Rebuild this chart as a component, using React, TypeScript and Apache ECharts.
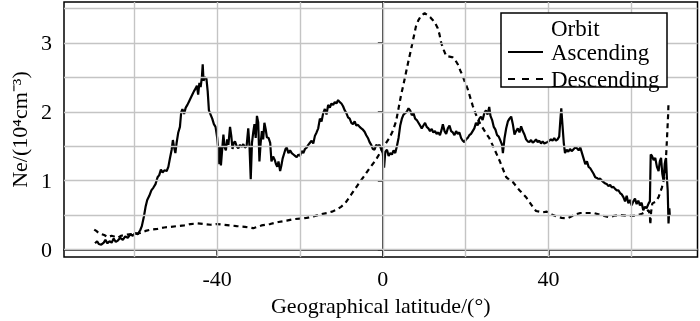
import React, { useEffect, useRef } from "react";
import * as echarts from "echarts";

const FONT = "'Liberation Serif', 'Times New Roman', serif";

const xLabelValues = [-40, 0, 40];
const yLabelValues = [0, 1, 2, 3];
const xGridValues = [-60, -40, -20, 0, 20, 40, 60];
const yGridValues = [0, 0.5, 1, 1.5, 2, 2.5, 3, 3.5];

const legendTitle = "Orbit";
const seriesNames = ["Ascending", "Descending"];

const ascLat = [
  -69.5, -69.0, -68.6, -68.0, -67.4, -67.0, -66.5, -66.0, -65.5, -65.0, -64.5, -64.0, -63.4, -62.8, -62.2, -61.6,
  -61.0, -60.4, -59.8, -59.2, -58.6, -58.2, -57.7, -57.3, -56.9, -56.4, -55.9, -55.4, -54.9, -54.4, -54.0, -53.6,
  -53.2, -52.7, -52.2, -51.8, -51.4, -51.0, -50.7, -50.4, -50.1, -49.8, -49.4, -49.0, -48.7, -48.4, -48.0, -47.6,
  -47.2, -46.8, -46.4, -46.0, -45.6, -45.2, -44.9, -44.6, -44.3, -44.0, -43.7, -43.5, -43.3, -43.0, -42.6, -42.3,
  -42.0, -41.6, -41.2, -40.8, -40.4, -40.0, -39.7, -39.5, -39.3, -39.1, -38.8, -38.5, -38.2, -37.9, -37.6, -37.3,
  -36.9, -36.6, -36.3, -36.0, -35.7, -35.3, -34.9, -34.5, -34.1, -33.7, -33.3, -32.9, -32.5, -32.2, -31.9, -31.6,
  -31.3, -31.0, -30.7, -30.4, -30.1, -29.8, -29.5, -29.2, -28.9, -28.6, -28.3, -28.0, -27.6, -27.2, -26.9, -26.5,
  -26.1, -25.8, -25.5, -25.2, -24.8, -24.5, -24.2, -23.9, -23.5, -23.2, -22.8, -22.4, -22.0, -21.6, -21.2, -20.8,
  -20.4, -20.0, -19.6, -19.2, -18.8, -18.4, -18.0, -17.6, -17.2, -16.8, -16.4, -16.0, -15.6, -15.2, -14.8, -14.4,
  -14.0, -13.6, -13.2, -12.8, -12.4, -12.0, -11.6, -11.2, -10.8, -10.4, -10.0, -9.6, -9.2, -8.8, -8.4, -8.0,
  -7.6, -7.2, -6.8, -6.4, -6.0, -5.6, -5.2, -4.8, -4.4, -4.0, -3.6, -3.2, -2.8, -2.4, -2.0, -1.6,
  -1.2, -0.8, -0.4, 0.0, 0.3, 0.6, 1.0, 1.4, 1.8, 2.2, 2.6, 3.0, 3.4, 3.8, 4.2, 4.6,
  5.0, 5.4, 5.8, 6.2, 6.6, 7.0, 7.4, 7.8, 8.2, 8.6, 9.0, 9.4, 9.8, 10.2, 10.6, 11.0,
  11.4, 11.8, 12.2, 12.6, 13.0, 13.4, 13.8, 14.2, 14.5, 14.9, 15.3, 15.7, 16.1, 16.5, 16.9, 17.3,
  17.7, 18.1, 18.5, 18.9, 19.3, 19.7, 20.1, 20.5, 20.9, 21.3, 21.7, 22.1, 22.5, 22.9, 23.3, 23.7,
  24.1, 24.5, 24.9, 25.3, 25.7, 26.0, 26.4, 26.8, 27.2, 27.6, 28.0, 28.4, 28.8, 29.0, 29.4, 29.8,
  30.2, 30.6, 31.0, 31.4, 31.8, 32.2, 32.6, 33.0, 33.4, 33.8, 34.2, 34.6, 35.0, 35.4, 35.8, 36.2,
  36.6, 37.0, 37.4, 37.8, 38.2, 38.6, 39.0, 39.4, 39.8, 40.2, 40.6, 41.0, 41.4, 41.8, 42.2, 42.6,
  42.9, 43.1, 43.4, 43.7, 44.0, 44.4, 44.8, 45.2, 45.6, 46.0, 46.4, 46.9, 47.3, 47.7, 48.1, 48.5,
  48.9, 49.3, 49.7, 50.1, 50.5, 50.9, 51.3, 51.7, 52.1, 52.5, 52.9, 53.3, 53.7, 54.1, 54.5, 54.9,
  55.3, 55.7, 56.1, 56.5, 56.9, 57.3, 57.7, 58.1, 58.5, 58.9, 59.3, 59.7, 60.1, 60.5, 60.9, 61.3,
  61.7, 62.1, 62.5, 62.9, 63.3, 63.7, 64.2, 64.5, 64.7, 65.0, 65.4, 65.8, 66.2, 66.6, 66.9, 67.2,
  67.5, 67.8, 68.1, 68.4, 68.6, 68.8, 69.0, 69.2, 69.3,
];
const ascNe = [
  0.09, 0.12, 0.08, 0.07, 0.10, 0.14, 0.09, 0.12, 0.10, 0.16, 0.11, 0.13, 0.17, 0.14, 0.19, 0.17,
  0.22, 0.20, 0.24, 0.22, 0.28, 0.34, 0.48, 0.62, 0.72, 0.78, 0.86, 0.90, 0.95, 1.05, 1.08, 1.16,
  1.12, 1.15, 1.14, 1.20, 1.33, 1.45, 1.59, 1.48, 1.40, 1.55, 1.70, 1.78, 1.99, 2.04, 1.97, 2.06,
  2.10, 2.15, 2.20, 2.25, 2.30, 2.34, 2.38, 2.25, 2.42, 2.36, 2.50, 2.69, 2.45, 2.50, 2.48, 2.30,
  2.02, 1.96, 1.90, 1.82, 1.78, 1.62, 1.42, 1.24, 1.50, 1.22, 1.45, 1.67, 1.48, 1.44, 1.60, 1.52,
  1.78, 1.65, 1.46, 1.55, 1.57, 1.50, 1.47, 1.52, 1.49, 1.53, 1.48, 1.50, 1.76, 1.50, 1.02, 1.55,
  1.70, 1.82, 1.62, 1.94, 1.85, 1.28, 1.55, 1.72, 1.60, 1.84, 1.75, 1.63, 1.62, 1.55, 1.28, 1.35,
  1.30, 1.24, 1.20, 1.28, 1.14, 1.22, 1.32, 1.38, 1.46, 1.48, 1.40, 1.44, 1.40, 1.38, 1.36, 1.34,
  1.38, 1.36, 1.43, 1.40, 1.46, 1.48, 1.52, 1.55, 1.58, 1.54, 1.65, 1.70, 1.76, 1.90, 1.86, 1.98,
  2.04, 1.96, 2.10, 2.06, 2.12, 2.10, 2.14, 2.12, 2.17, 2.14, 2.12, 2.08, 2.02, 1.98, 1.92, 1.90,
  1.84, 1.82, 1.86, 1.80, 1.81, 1.78, 1.76, 1.74, 1.71, 1.66, 1.62, 1.56, 1.52, 1.46, 1.45, 1.52,
  1.50, 1.52, 1.46, 1.40, 1.19, 1.42, 1.45, 1.36, 1.40, 1.38, 1.44, 1.40, 1.50, 1.62, 1.80, 1.90,
  1.96, 1.98, 2.00, 2.05, 2.02, 1.95, 1.98, 1.90, 1.88, 1.84, 1.80, 1.76, 1.80, 1.84, 1.78, 1.76,
  1.72, 1.75, 1.70, 1.72, 1.68, 1.70, 1.66, 1.74, 1.82, 1.72, 1.68, 1.76, 1.80, 1.72, 1.70, 1.66,
  1.72, 1.68, 1.70, 1.62, 1.58, 1.56, 1.60, 1.62, 1.66, 1.68, 1.72, 1.76, 1.84, 1.80, 1.90, 1.93,
  1.88, 1.98, 2.02, 1.96, 2.07, 1.94, 1.88, 1.78, 1.74, 1.66, 1.64, 1.58, 1.52, 1.40, 1.62, 1.76,
  1.86, 1.90, 1.93, 1.82, 1.67, 1.72, 1.76, 1.70, 1.79, 1.72, 1.67, 1.60, 1.57, 1.56, 1.59, 1.55,
  1.57, 1.60, 1.56, 1.58, 1.54, 1.57, 1.54, 1.55, 1.56, 1.58, 1.60, 1.58, 1.62, 1.58, 1.60, 1.64,
  1.90, 2.05, 1.80, 1.55, 1.40, 1.45, 1.42, 1.46, 1.43, 1.45, 1.48, 1.47, 1.44, 1.48, 1.40, 1.32,
  1.24, 1.28, 1.20, 1.18, 1.14, 1.10, 1.05, 1.04, 1.02, 1.03, 1.00, 0.98, 0.96, 0.95, 0.92, 0.94,
  0.90, 0.91, 0.88, 0.86, 0.86, 0.82, 0.80, 0.76, 0.70, 0.78, 0.67, 0.72, 0.64, 0.70, 0.74, 0.66,
  0.71, 0.64, 0.68, 0.57, 0.62, 0.60, 0.67, 0.70, 1.38, 1.36, 1.30, 1.33, 1.20, 1.14, 1.28, 1.33,
  1.10, 1.00, 1.25, 1.33, 1.05, 0.86, 0.38, 0.60, 0.50,
];

const descLat = [
  -69.7, -69.2, -68.6, -67.3, -66.4, -65.5, -64.9, -64.0, -63.2, -62.5, -61.2, -59.7, -58.5, -57.3, -56.0, -54.4,
  -52.8, -51.2, -49.6, -48.0, -46.4, -44.8, -43.2, -41.6, -40.0, -38.4, -36.8, -35.3, -33.3, -31.3, -29.3, -27.2,
  -25.2, -23.2, -21.6, -20.0, -18.4, -16.8, -15.1, -13.5, -12.3, -11.1, -10.1, -9.1, -8.3, -7.5, -6.7, -5.9,
  -4.7, -3.9, -3.1, -2.2, -1.4, -0.7, 0.0, 0.8, 1.6, 2.4, 3.2, 3.8, 4.4, 5.0, 5.6, 6.2,
  6.8, 7.4, 8.0, 8.6, 9.3, 10.1, 10.9, 11.5, 12.1, 12.7, 13.3, 13.7, 14.1, 14.7, 15.3, 16.1,
  16.9, 17.5, 18.1, 18.7, 19.3, 19.9, 20.5, 21.1, 21.7, 22.3, 22.9, 23.5, 24.2, 24.9, 25.7, 26.4,
  27.0, 27.6, 28.2, 29.0, 29.8, 30.6, 31.4, 32.2, 33.0, 33.8, 34.6, 35.4, 36.2, 37.0, 37.8, 38.6,
  39.6, 40.8, 42.0, 43.2, 44.4, 45.5, 46.6, 47.7, 49.3, 50.9, 52.7, 54.5, 55.9, 57.3, 58.9, 60.5,
  61.6, 62.6, 63.5, 64.2, 64.5, 64.6, 64.8, 65.1, 65.8, 66.6, 67.4, 67.9, 68.2, 68.5, 68.7, 68.9,
  69.0,
];
const descNe = [
  0.29, 0.27, 0.24, 0.21, 0.18, 0.20, 0.19, 0.17, 0.20, 0.21, 0.22, 0.23, 0.24, 0.27, 0.29, 0.30,
  0.32, 0.33, 0.34, 0.35, 0.37, 0.38, 0.37, 0.36, 0.37, 0.36, 0.35, 0.34, 0.33, 0.31, 0.35, 0.37,
  0.40, 0.42, 0.44, 0.45, 0.46, 0.48, 0.51, 0.53, 0.55, 0.58, 0.62, 0.67, 0.74, 0.81, 0.88, 0.95,
  1.05, 1.12, 1.19, 1.26, 1.33, 1.40, 1.48, 1.55, 1.62, 1.72, 1.86, 2.05, 2.24, 2.40, 2.57, 2.74,
  2.90, 3.07, 3.24, 3.33, 3.40, 3.43, 3.40, 3.37, 3.33, 3.28, 3.21, 3.12, 3.00, 2.90, 2.81, 2.80,
  2.79, 2.75, 2.69, 2.60, 2.52, 2.42, 2.33, 2.21, 2.09, 1.99, 1.90, 1.83, 1.76, 1.69, 1.62, 1.53,
  1.45, 1.37, 1.29, 1.17, 1.05, 1.01, 0.98, 0.92, 0.86, 0.81, 0.76, 0.69, 0.62, 0.56, 0.55, 0.54,
  0.55, 0.51, 0.48, 0.46, 0.45, 0.48, 0.51, 0.53, 0.53, 0.53, 0.50, 0.47, 0.49, 0.50, 0.49, 0.49,
  0.50, 0.52, 0.55, 0.57, 0.50, 0.36, 0.55, 0.67, 0.69, 0.76, 0.90, 1.02, 1.14, 1.45, 1.70, 1.95,
  2.14,
];

const xTitle = "Geographical latitude/(°)";
const yTitle = "Ne/(10⁴cm⁻³)";

export default function App() {
  const ref = useRef<HTMLDivElement>(null);
  useEffect(() => {
    if (!ref.current) return;
    const chart = echarts.init(ref.current, null, { renderer: "svg" });
    const ascData = ascLat.map((x, i) => [x, ascNe[i]]);
    const descData = descLat.map((x, i) => [x, descNe[i]]);
    const gridLineData = [
      ...xGridValues.map((v) => ({ xAxis: v })),
      ...yGridValues.map((v) => ({ yAxis: v })),
    ];
    const textBase = { fontFamily: FONT, color: "#000" };
    chart.setOption({
      animation: false,
      grid: {
        left: 64,
        top: 2,
        right: 2.5,
        bottom: 60,
        show: true,
        borderColor: "#000",
        borderWidth: 1.5,
        backgroundColor: "#fff",
      },
      xAxis: {
        type: "value",
        min: -77,
        max: 76,
        splitLine: { show: false },
        axisLine: { show: true, lineStyle: { color: "#000", width: 1.5 } },
        axisTick: { show: true, customValues: xLabelValues, length: 6, lineStyle: { color: "#000", width: 1.5 } },
        axisLabel: { customValues: xLabelValues, ...textBase, fontSize: 22, margin: 10 },
        name: xTitle,
        nameLocation: "middle",
        nameGap: 33,
        nameTextStyle: { ...textBase, fontSize: 22 },
      },
      yAxis: {
        type: "value",
        min: -0.11,
        max: 3.594,
        splitLine: { show: false },
        axisLine: { show: true, lineStyle: { color: "#000", width: 1.5 } },
        axisTick: { show: true, customValues: yLabelValues, length: 5, lineStyle: { color: "#000", width: 1.5 } },
        axisLabel: { customValues: yLabelValues, ...textBase, fontSize: 22, margin: 12 },
        name: yTitle,
        nameLocation: "middle",
        nameGap: 31,
        nameTextStyle: { ...textBase, fontSize: 22 },
      },
      legend: {
        data: [
          { name: seriesNames[0], icon: "path://M0,0h35v2h-35z" },
          { name: seriesNames[1], icon: "path://M0,0h7v2h-7z M14,0h7v2h-7z M28,0h7v2h-7z" },
        ],
        orient: "vertical",
        left: 508,
        top: 40.5,
        itemWidth: 35,
        itemHeight: 2,
        itemGap: 4,
        padding: 0,
        z: 7,
        itemStyle: { color: "#000", borderWidth: 0 },
        textStyle: { ...textBase, fontSize: 23, lineHeight: 23, padding: [0, 0, 0, 3] },
      },
      graphic: [
        {
          type: "rect",
          z: 6,
          shape: { x: 501, y: 13, width: 166, height: 74 },
          style: { fill: "#fff", stroke: "#000", lineWidth: 1.5 },
        },
        {
          type: "text",
          z: 7,
          x: 551,
          y: 28,
          style: { text: legendTitle, font: `23px ${FONT}`, fill: "#000", verticalAlign: "middle", align: "left" },
        },
      ],
      series: [
        {
          name: "grid",
          type: "line",
          data: [],
          silent: true,
          z: 1,
          markLine: {
            silent: true,
            symbol: ["none", "none"],
            label: { show: false },
            lineStyle: { color: "#c4c4c4", width: 1.4, type: "solid" },
            data: gridLineData,
          },
        },
        {
          name: seriesNames[0],
          type: "line",
          data: ascData,
          showSymbol: false,
          symbol: "none",
          z: 3,
          lineStyle: { color: "#000", width: 2.2, type: "solid" },
          itemStyle: { color: "#000" },
        },
        {
          name: seriesNames[1],
          type: "line",
          data: descData,
          showSymbol: false,
          symbol: "none",
          z: 3,
          lineStyle: { color: "#000", width: 2.2, type: [5, 4] },
          itemStyle: { color: "#000" },
        },
      ],
    });
    return () => chart.dispose();
  }, []);
  return <div ref={ref} style={{ position: "fixed", left: 0, top: 0, width: 700, height: 321 }} />;
}
